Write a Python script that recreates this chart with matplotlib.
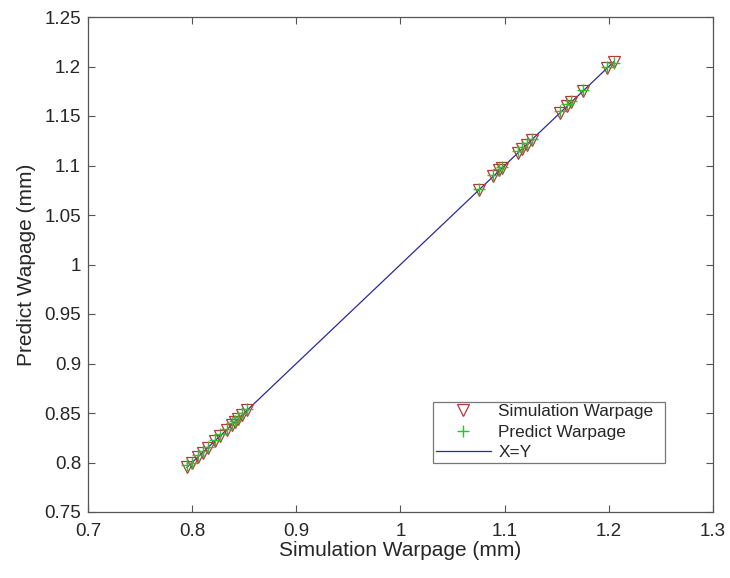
import numpy as np
import matplotlib.pyplot as plt

plt.rcParams['font.family'] = ['Liberation Sans', 'DejaVu Sans']
plt.rcParams['text.color'] = '#262626'
plt.rcParams['axes.labelcolor'] = '#262626'
plt.rcParams['xtick.labelcolor'] = '#262626'
plt.rcParams['ytick.labelcolor'] = '#262626'

# Simulation vs. predicted warpage (mm)
sim_warpage = [0.795, 0.800, 0.806, 0.810, 0.815, 0.822, 0.827, 0.833, 0.838,
               0.841, 0.844, 0.848, 0.853,
               1.075, 1.089, 1.095, 1.097, 1.113, 1.117, 1.121, 1.126,
               1.153, 1.160, 1.164, 1.175, 1.198, 1.205]
pred_warpage = [0.797, 0.799, 0.808, 0.812, 0.816, 0.823, 0.829, 0.834, 0.840,
                0.842, 0.846, 0.850, 0.854,
                1.076, 1.090, 1.096, 1.098, 1.115, 1.119, 1.123, 1.127,
                1.155, 1.162, 1.165, 1.176, 1.199, 1.204]
line_xy = [0.795, 1.205]

fig = plt.figure(figsize=(7.3, 5.78), dpi=100)
ax = fig.add_axes([88 / 730, 1 - 512 / 578, 625 / 730, 495 / 578])

ax.plot(sim_warpage, sim_warpage, linestyle='none', marker='v', markersize=9,
        markerfacecolor='none', markeredgecolor='#b03a3a', markeredgewidth=0.9,
        label='Simulation Warpage', zorder=3)
ax.plot(sim_warpage, pred_warpage, linestyle='none', marker='+', markersize=8,
        color='#2fbf2f', markeredgewidth=1.0, label='Predict Warpage', zorder=4)
ax.plot(line_xy, line_xy, color='#2a2a9a', linewidth=0.9, label='X=Y', zorder=2)

ax.set_xlim(0.7, 1.3)
ax.set_ylim(0.75, 1.25)
ax.set_xticks(np.arange(0.7, 1.31, 0.1))
ax.set_yticks(np.arange(0.75, 1.26, 0.05))
ax.set_xticklabels(['0.7', '0.8', '0.9', '1', '1.1', '1.2', '1.3'])
ax.set_yticklabels(['0.75', '0.8', '0.85', '0.9', '0.95', '1', '1.05', '1.1',
                    '1.15', '1.2', '1.25'])
ax.tick_params(direction='in', top=True, right=True, labelsize=13.5,
               length=5, width=0.8, color='#555555')
ax.tick_params(axis='x', pad=8)
ax.tick_params(axis='y', pad=5)
for s in ax.spines.values():
    s.set_color('#555555')
    s.set_linewidth(0.9)

ax.set_xlabel('Simulation Warpage (mm)', fontsize=15, labelpad=1)
ax.set_ylabel('Predict Wapage (mm)', fontsize=15, labelpad=6)

leg = ax.legend(loc='lower left', bbox_to_anchor=(0.552, 0.099, 0.371, 0.156),
                mode='expand', fontsize=12.4, frameon=True, fancybox=False,
                edgecolor='#555555', borderpad=0.15, handlelength=3.2,
                labelspacing=0.32, handletextpad=0.45, borderaxespad=0)
leg.get_frame().set_linewidth(0.9)

fig.savefig('out.png', dpi=100)
